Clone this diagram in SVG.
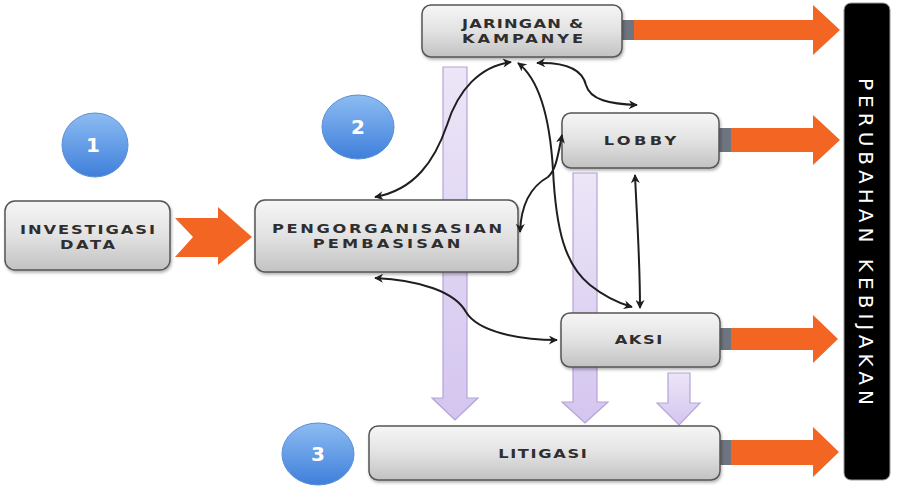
<svg xmlns="http://www.w3.org/2000/svg" width="897" height="498" viewBox="0 0 897 498">
<defs>
<linearGradient id="boxg" x1="0" y1="0" x2="0" y2="1">
<stop offset="0" stop-color="#f6f6f6"/><stop offset="0.5" stop-color="#e2e2e2"/><stop offset="1" stop-color="#c2c2c2"/>
</linearGradient>
<linearGradient id="blueg" x1="0" y1="0" x2="0" y2="1">
<stop offset="0" stop-color="#8dbcf2"/><stop offset="1" stop-color="#3f7fdb"/>
</linearGradient>
<linearGradient id="purg" x1="0" y1="0" x2="0" y2="1">
<stop offset="0" stop-color="#ece6f7"/><stop offset="1" stop-color="#d4c5ef"/>
</linearGradient>
<filter id="sh" x="-10%" y="-10%" width="125%" height="135%">
<feDropShadow dx="1" dy="2" stdDeviation="1.5" flood-color="#000" flood-opacity="0.3"/>
</filter>
<marker id="ah" viewBox="0 0 10 10" refX="9" refY="5" markerWidth="10" markerHeight="9" markerUnits="userSpaceOnUse" orient="auto-start-reverse">
<path d="M0,0 L10,5 L0,10 L3,5 Z" fill="#1e1e1e"/>
</marker>
</defs>
<style>
.box{fill:url(#boxg);stroke:#555;stroke-width:1.5;filter:url(#sh)}
.lbl{font-family:"DejaVu Sans","Liberation Sans",sans-serif;font-size:13px;font-weight:bold;fill:#2e2e2e;text-anchor:middle}
.num{font-family:"DejaVu Sans","Liberation Sans",sans-serif;font-size:20px;font-weight:bold;fill:#fff;text-anchor:middle}
.circ{fill:url(#blueg);stroke:#5b8fd6;stroke-width:1}
.orange{fill:#f26522}
.tail{fill:#6e7480}
.purple{fill:url(#purg);stroke:#b5a3d8;stroke-width:1.2}
.con{fill:none;stroke:#1e1e1e;stroke-width:2;marker-start:url(#ah);marker-end:url(#ah)}
</style>
<rect width="897" height="498" fill="#fff"/>

<g id="flow-arrows">
<path class="purple" d="M443,67 H467 V398 H478 L455,420 L432,398 H443 Z"/>
<path class="purple" d="M573,173 H597 V402 H608 L585,423 L562,402 H573 Z"/>
<path class="purple" d="M668,373 H690 V403 H700 L679,425 L657,403 H668 Z"/>
<path class="orange" d="M175,218 L193,237 L175,257 H218 V265 L252,237 L218,207 V218 Z"/>
<rect class="tail" x="622" y="20" width="12" height="20"/>
<path class="orange" d="M634,20 H813 V5 L840,30 L813,55 V40 H634 Z"/>
<rect class="tail" x="718" y="128" width="13" height="24"/>
<path class="orange" d="M731,128 H813 V115 L840,140 L813,165 V152 H731 Z"/>
<rect class="tail" x="719" y="328" width="12" height="22"/>
<path class="orange" d="M731,328 H813 V315 L838,339 L813,363 V350 H731 Z"/>
<rect class="tail" x="719" y="440" width="12" height="25"/>
<path class="orange" d="M731,440 H813 V427 L839,452 L813,477 V465 H731 Z"/>
</g>

<g id="badge-1"><ellipse class="circ" cx="95" cy="145" rx="33" ry="32"/><text class="num" x="93" y="152">1</text></g>
<g id="badge-2"><ellipse class="circ" cx="358" cy="127" rx="36" ry="32"/><text class="num" x="358" y="134">2</text></g>
<g id="badge-3"><ellipse class="circ" cx="318" cy="454" rx="36" ry="31"/><text class="num" x="318" y="461">3</text></g>

<g id="node-investigasi">
<rect class="box" x="5" y="201" width="165" height="69" rx="10"/>
<text class="lbl" transform="translate(87.5,234) scale(1.25,1)" textLength="108" lengthAdjust="spacing">INVESTIGASI</text>
<text class="lbl" transform="translate(87.5,249) scale(1.25,1)" textLength="44" lengthAdjust="spacing">DATA</text>
</g>
<g id="node-pengorganisasian">
<rect class="box" x="255" y="200" width="263" height="72" rx="10"/>
<text class="lbl" transform="translate(387,233) scale(1.25,1)" textLength="184" lengthAdjust="spacing">PENGORGANISASIAN</text>
<text class="lbl" transform="translate(386.5,248) scale(1.25,1)" textLength="118" lengthAdjust="spacing">PEMBASISAN</text>
</g>
<g id="node-jaringan">
<rect class="box" x="422" y="5" width="200" height="52" rx="9"/>
<text class="lbl" transform="translate(522.5,28) scale(1.25,1)" textLength="97" lengthAdjust="spacing">JARINGAN &amp;</text>
<text class="lbl" transform="translate(522.5,43) scale(1.25,1)" textLength="97" lengthAdjust="spacing">KAMPANYE</text>
</g>
<g id="node-lobby">
<rect class="box" x="562" y="113" width="157" height="55" rx="9"/>
<text class="lbl" transform="translate(640,145) scale(1.25,1)" textLength="58" lengthAdjust="spacing">LOBBY</text>
</g>
<g id="node-aksi">
<rect class="box" x="561" y="313" width="159" height="54" rx="9"/>
<text class="lbl" transform="translate(638.5,344) scale(1.25,1)" textLength="38" lengthAdjust="spacing">AKSI</text>
</g>
<g id="node-litigasi">
<rect class="box" x="369" y="426" width="351" height="54" rx="9"/>
<text class="lbl" transform="translate(542.5,458) scale(1.25,1)" textLength="71" lengthAdjust="spacing">LITIGASI</text>
</g>
<g id="node-perubahan">
<rect x="844" y="3" width="46" height="477" rx="7" fill="#000" stroke="#999" stroke-width="1"/>
<text transform="translate(859,241.5) rotate(90)" font-family="DejaVu Sans, Liberation Sans, sans-serif" font-size="20" fill="#fff" text-anchor="middle" textLength="327" lengthAdjust="spacing">PERUBAHAN KEBIJAKAN</text>
</g>

<g id="connectors">
<path class="con" d="M375,197 C415,190 435,160 447,125 C458,90 480,66 511,62"/>
<path class="con" d="M518,63 C540,80 550,120 553,170 C556,230 565,265 590,285 C605,297 618,303 632,307"/>
<path class="con" d="M537,63 C565,62 582,68 586,85 C590,100 610,104 637,105"/>
<path class="con" d="M520,232 C521,205 530,187 548,177 C556,170 558,155 562,135"/>
<path class="con" d="M635,175 C637,220 640,260 640,308"/>
<path class="con" d="M375,278 C420,280 455,292 466,312 C478,332 520,340 557,340"/>
</g>
</svg>
